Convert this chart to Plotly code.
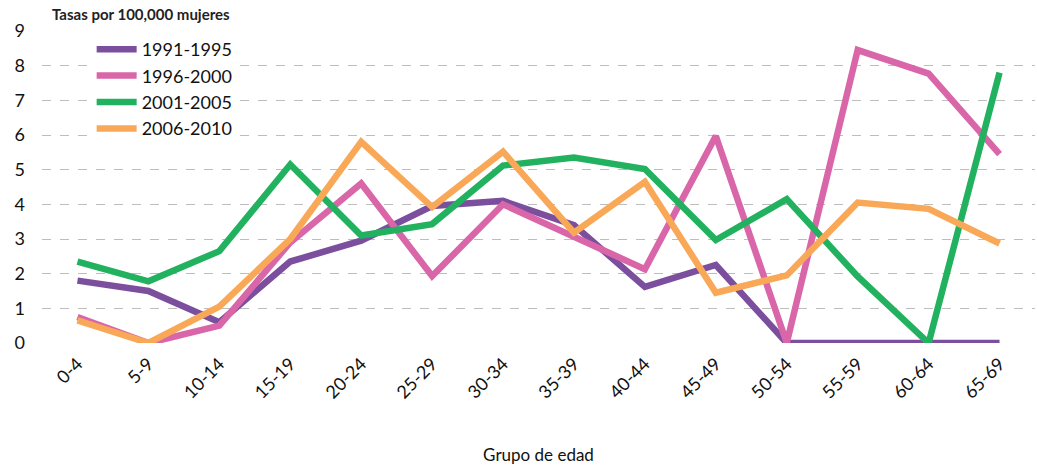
import plotly.graph_objects as go

categories = ["0-4", "5-9", "10-14", "15-19", "20-24", "25-29", "30-34",
              "35-39", "40-44", "45-49", "50-54", "55-59", "60-64", "65-69"]
s1991 = [1.8, 1.5, 0.6, 2.35, 2.95, 3.95, 4.1, 3.4, 1.62, 2.25, 0, 0, 0, 0]
s1996 = [0.75, 0, 0.5, 2.9, 4.6, 1.93, 4.0, 3.05, 2.13, 5.97, 0, 8.45, 7.77, 5.45]
s2001 = [2.35, 1.78, 2.65, 5.15, 3.1, 3.43, 5.12, 5.35, 5.02, 2.97, 4.15, 1.92, 0, 7.8]
s2006 = [0.65, 0, 1.05, 3.0, 5.8, 3.92, 5.52, 3.18, 4.65, 1.45, 1.95, 4.05, 3.87, 2.87]
names = ["1991-1995", "1996-2000", "2001-2005", "2006-2010"]
colors = ["#7B4F9D", "#D966A8", "#22B25F", "#F9A857"]
yticks = list(range(0, 10))

fig = go.Figure()
for name, vals, col in zip(names, [s1991, s1996, s2001, s2006], colors):
    fig.add_trace(go.Scatter(x=categories, y=vals, name=name, mode="lines",
                             line=dict(color=col, width=6.5), cliponaxis=False))

fig.update_layout(
    width=1037, height=465,
    margin=dict(l=42, r=2, t=31, b=122, autoexpand=False),
    paper_bgcolor="white", plot_bgcolor="white",
    font=dict(family="Lato, sans-serif", color="#111111"),
    showlegend=True,
    legend=dict(x=0.05, y=1.0, xanchor="left", yanchor="top",
                bgcolor="white", font=dict(size=18),
                tracegroupgap=0, itemwidth=40),
    xaxis=dict(type="category", range=[-0.5, 13.5], tickangle=-45,
               tickfont=dict(size=18), automargin=False,
               showgrid=False, zeroline=False, showline=False,
               ticklabelstandoff=6,
               title=dict(text="Grupo de edad", font=dict(size=17), standoff=48)),
    yaxis=dict(range=[0, 9], tickvals=yticks, tickfont=dict(size=18),
               automargin=False,
               showgrid=True, gridcolor="#BDBDBD", griddash="dash", gridwidth=1,
               zeroline=False, showline=False, ticklen=0, ticklabelstandoff=16),
    annotations=[dict(text="<b>Tasas por 100,000 mujeres</b>", x=0.0, y=1.0,
                      xref="paper", yref="paper", xanchor="left", yanchor="bottom",
                      xshift=8, yshift=6, showarrow=False,
                      font=dict(size=15, color="#222222"))],
)
fig.write_html("out.html", config={"displayModeBar": False},
               post_script="document.body.style.margin='0';")
